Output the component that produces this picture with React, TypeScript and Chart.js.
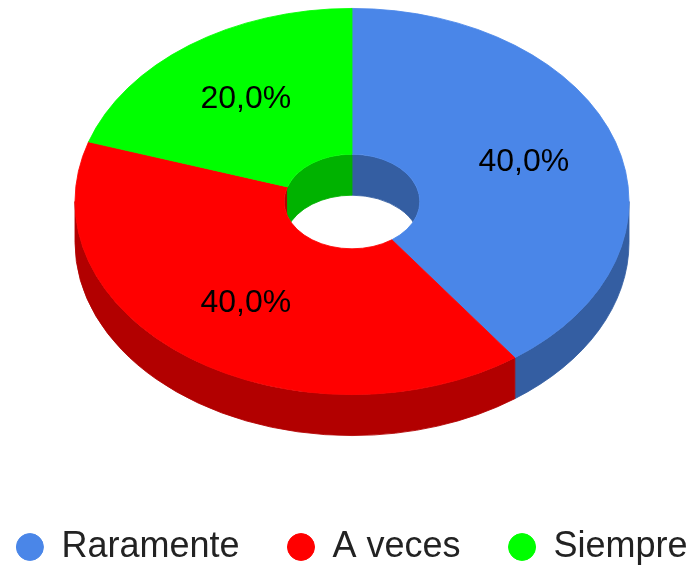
import React, { useEffect, useRef } from 'react';
import { Chart, registerables } from 'chart.js';

Chart.register(...registerables);

// ---- data ----
const categories = ['Raramente', 'A veces', 'Siempre'];
const values = [40, 40, 20];
const colors = ['#4a86e8', '#ff0000', '#00ff00'];
const sideColors = ['#345ea2', '#b20000', '#00b200'];

// ---- 3D styling ----
const TILT = 0.697;
const DEPTH = 41;
const LABEL_RADIUS = 0.652;
const FONT = "'Liberation Sans', Arial, sans-serif";

const TAU = Math.PI * 2;
function overlap(s: number, e: number, lo: number, hi: number) {
  const res: [number, number][] = [];
  for (let k = -2; k <= 2; k++) {
    const a = Math.max(s, lo + k * TAU);
    const b = Math.min(e, hi + k * TAU);
    if (b > a) res.push([a, b]);
  }
  return res;
}

const pie3d = {
  id: 'pie3d',
  beforeDatasetsDraw(chart: any) {
    const ctx: CanvasRenderingContext2D = chart.ctx;
    const meta = chart.getDatasetMeta(0);
    const arcs: any[] = meta.data;
    if (!arcs.length) return;
    const cx = arcs[0].x;
    const cy = arcs[0].y;
    const D = DEPTH / TILT;

    ctx.save();
    ctx.translate(cx, cy);
    ctx.scale(1, TILT);

    // inner (hole) walls - back half visible
    ctx.save();
    const r0 = arcs[0].innerRadius;
    ctx.beginPath();
    ctx.arc(0, 0, r0, 0, TAU);
    ctx.clip();
    arcs.forEach((arc, i) => {
      const { startAngle, endAngle, innerRadius } = arc;
      overlap(startAngle, endAngle, Math.PI, TAU).forEach(([a, b]) => {
        ctx.beginPath();
        ctx.arc(0, 0, innerRadius, a, b);
        ctx.arc(0, D, innerRadius, b, a, true);
        ctx.closePath();
        ctx.fillStyle = sideColors[i];
        ctx.strokeStyle = sideColors[i];
        ctx.lineWidth = 1;
        ctx.fill();
        ctx.stroke();
      });
    });
    ctx.restore();

    // outer walls - front half visible
    arcs.forEach((arc, i) => {
      const { startAngle, endAngle, outerRadius } = arc;
      overlap(startAngle, endAngle, 0, Math.PI).forEach(([a, b]) => {
        ctx.beginPath();
        ctx.arc(0, 0, outerRadius, a, b);
        ctx.arc(0, D, outerRadius, b, a, true);
        ctx.closePath();
        ctx.fillStyle = sideColors[i];
        ctx.strokeStyle = sideColors[i];
        ctx.lineWidth = 1;
        ctx.fill();
        ctx.stroke();
      });
    });
    ctx.restore();

    // top faces drawn by the library's arc elements, squashed
    ctx.save();
    ctx.translate(cx, cy);
    ctx.scale(1, TILT);
    ctx.translate(-cx, -cy);
    arcs.forEach((arc) => arc.draw(ctx));
    ctx.restore();

    // percentage labels
    const data: number[] = chart.data.datasets[0].data;
    const total = data.reduce((s, v) => s + v, 0);
    ctx.save();
    ctx.font = `32px ${FONT}`;
    ctx.fillStyle = '#000000';
    ctx.textAlign = 'center';
    ctx.textBaseline = 'middle';
    arcs.forEach((arc, i) => {
      const mid = (arc.startAngle + arc.endAngle) / 2;
      const rr = arc.outerRadius * LABEL_RADIUS;
      const x = cx + rr * Math.cos(mid);
      const y = cy + rr * Math.sin(mid) * TILT;
      const txt = ((data[i] / total) * 100).toFixed(1).replace('.', ',') + '%';
      ctx.fillText(txt, x, y);
    });
    ctx.restore();
    return false;
  },
};

export default function App() {
  const ref = useRef<HTMLCanvasElement>(null);
  useEffect(() => {
    document.body.style.margin = '0';
    document.body.style.overflow = 'hidden';
    const chart = new Chart(ref.current as HTMLCanvasElement, {
      type: 'doughnut',
      data: {
        labels: categories,
        datasets: [
          {
            data: values,
            backgroundColor: colors,
            borderColor: colors,
            borderWidth: 1,
            radius: 277,
            cutout: '24.5%',
          } as any,
        ],
      },
      options: {
        animation: false,
        responsive: true,
        maintainAspectRatio: false,
        layout: { padding: 0 },
        plugins: {
          tooltip: { enabled: false },
          legend: {
            position: 'bottom',
            labels: {
              usePointStyle: true,
              pointStyle: 'circle',
              pointStyleWidth: 27,
              boxHeight: 19,
              padding: 48,
              color: '#222222',
              font: { family: FONT, size: 36 },
            },
          },
        },
      } as any,
      plugins: [pie3d as any],
    });
    return () => chart.destroy();
  }, []);
  return (
    <div style={{ position: 'absolute', left: -38, top: -78, width: 780, height: 653 }}>
      <canvas ref={ref} />
    </div>
  );
}
